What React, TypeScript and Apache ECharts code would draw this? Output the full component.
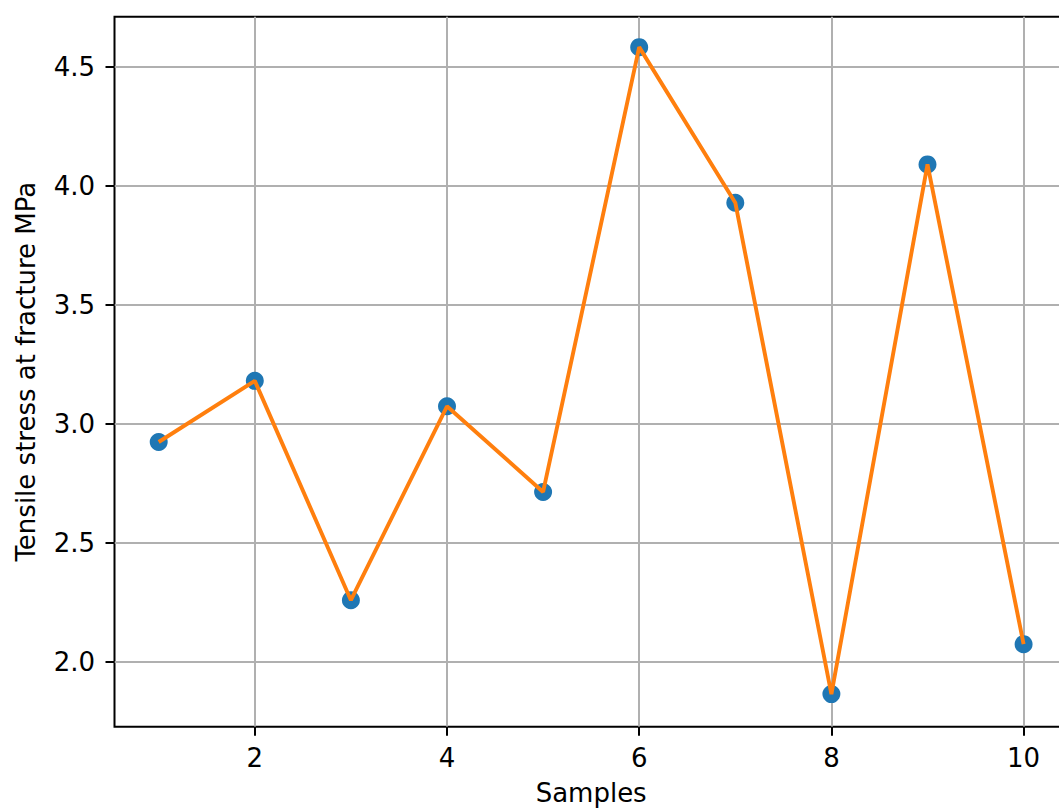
import React, { useEffect, useRef } from "react";
import * as echarts from "echarts";

const samples = [1, 2, 3, 4, 5, 6, 7, 8, 9, 10];
const stress = [2.924, 3.181, 2.259, 3.074, 2.714, 4.584, 3.93, 1.864, 4.091, 2.074];
const xTicks = [2, 4, 6, 8, 10];
const yTicks = [2.0, 2.5, 3.0, 3.5, 4.0, 4.5];
const xLabel = "Samples";
const yLabel = "Tensile stress at fracture MPa";

const FONT = "DejaVu Sans";
const FS = 26;

export default function App() {
  const ref = useRef<HTMLDivElement>(null);
  useEffect(() => {
    if (!ref.current) return;
    const chart = echarts.init(ref.current, undefined, { renderer: "svg" });
    const pts = samples.map((x, i) => [x, stress[i]]);
    chart.setOption({
      animation: false,
      backgroundColor: "#ffffff",
      grid: {
        left: 114.5,
        top: 16.7,
        width: 953.3,
        height: 710,
        show: true,
        borderColor: "#000000",
        borderWidth: 2,
        backgroundColor: "transparent",
      },
      xAxis: {
        type: "value",
        min: 0.54,
        max: 10.46,
        name: xLabel,
        nameLocation: "middle",
        nameGap: 53,
        nameTextStyle: { fontFamily: FONT, fontSize: FS, color: "#000" },
        axisLine: { show: false },
        axisTick: {
          show: true,
          length: 9,
          lineStyle: { color: "#000", width: 2 },
          customValues: xTicks,
        },
        axisLabel: {
          customValues: xTicks,
          margin: 18,
          fontFamily: FONT,
          fontSize: FS,
          color: "#000",
        },
        splitLine: { show: true, lineStyle: { color: "#b0b0b0", width: 2 } },
      },
      yAxis: {
        type: "value",
        min: 1.727,
        max: 4.712,
        name: yLabel,
        nameLocation: "middle",
        nameGap: 75.5,
        nameTextStyle: { fontFamily: FONT, fontSize: FS, color: "#000" },
        axisLine: { show: false },
        axisTick: {
          show: true,
          length: 9,
          lineStyle: { color: "#000", width: 2 },
          customValues: yTicks,
        },
        axisLabel: {
          customValues: yTicks,
          margin: 19.5,
          fontFamily: FONT,
          fontSize: FS,
          color: "#000",
          formatter: (v: number) => v.toFixed(1),
        },
        splitLine: { show: true, lineStyle: { color: "#b0b0b0", width: 2 } },
      },
      series: [
        {
          type: "scatter",
          data: pts,
          symbol: "circle",
          symbolSize: 18,
          itemStyle: { color: "#1f77b4", opacity: 1 },
          silent: true,
        },
        {
          type: "line",
          data: pts,
          showSymbol: false,
          symbol: "none",
          lineStyle: { color: "#ff7f0e", width: 3.9 },
          silent: true,
        },
      ],
    });
    return () => chart.dispose();
  }, []);
  return (
    <div
      style={{
        position: "fixed",
        left: 0,
        top: 0,
        width: 1059,
        height: 812,
        overflow: "hidden",
        background: "#fff",
      }}
    >
      <div ref={ref} style={{ width: 1085, height: 812 }} />
    </div>
  );
}
